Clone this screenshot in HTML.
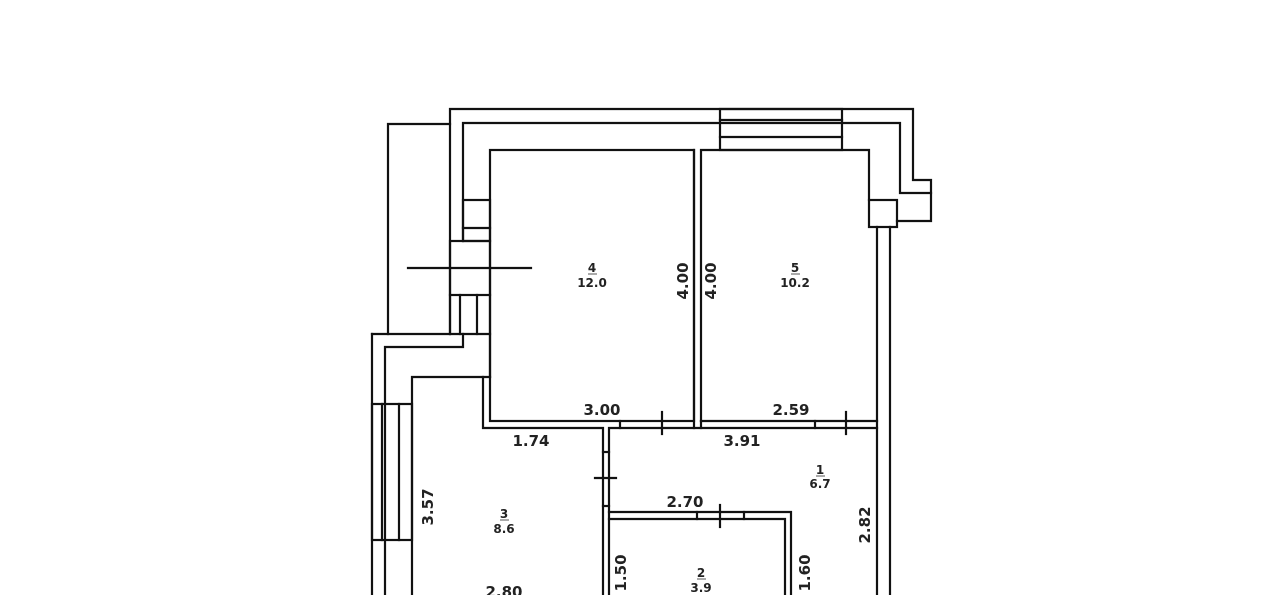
<!DOCTYPE html>
<html><head><meta charset="utf-8"><style>
html,body{margin:0;padding:0;background:#fff;}
svg{display:block;}
text{font-family:"DejaVu Sans","Liberation Sans",sans-serif;font-weight:bold;fill:#222;}
.d{font-size:15px;}
.r{font-size:12px;}
</style></head><body>
<svg width="1280" height="595" viewBox="0 0 1280 595" xmlns="http://www.w3.org/2000/svg">
<g stroke="#111" stroke-width="2.2" fill="none" stroke-linecap="square">
<!-- top outer walls -->
<polyline points="450,334 450,109 913,109 913,180 931,180 931,221 897,221"/>
<polyline points="463,241 463,123 900,123 900,193 931,193"/>
<!-- top window -->
<rect x="720" y="109" width="122" height="41"/>
<line x1="720" y1="120" x2="842" y2="120"/>
<line x1="720" y1="137" x2="842" y2="137"/>
<!-- room 4 -->
<rect x="490" y="150" width="204" height="271"/>
<!-- room 5 -->
<polyline points="701,421 701,150 869,150 869,200"/>
<line x1="701" y1="421" x2="877" y2="421"/>
<!-- right small box and walls -->
<rect x="869" y="200" width="28" height="27"/>
<line x1="877" y1="227" x2="877" y2="595"/>
<line x1="890" y1="227" x2="890" y2="595"/>
<!-- left outer rect -->
<polyline points="450,124 388,124 388,334"/>
<!-- left column boxes -->
<rect x="463" y="200" width="27" height="41"/>
<line x1="463" y1="228" x2="490" y2="228"/>
<rect x="450" y="241" width="40" height="54"/>
<line x1="408" y1="268" x2="531" y2="268"/>
<line x1="450" y1="295" x2="450" y2="334"/>
<line x1="460" y1="295" x2="460" y2="334"/>
<line x1="477" y1="295" x2="477" y2="334"/>
<line x1="490" y1="295" x2="490" y2="377"/>
<line x1="372" y1="334" x2="490" y2="334"/>
<polyline points="463,334 463,347 385,347 385,595"/>
<line x1="372" y1="334" x2="372" y2="595"/>
<polyline points="490,377 412,377 412,595"/>
<!-- left window -->
<rect x="372" y="404" width="40" height="136"/>
<line x1="382" y1="404" x2="382" y2="540"/>
<line x1="399" y1="404" x2="399" y2="540"/>
<!-- room 3 top -->
<polyline points="483,377 483,428 603,428 603,595"/>
<line x1="694" y1="150" x2="694" y2="428"/>
<line x1="701" y1="421" x2="701" y2="428"/>
<polyline points="609,595 609,428 877,428"/>
<!-- doors -->
<line x1="620" y1="421" x2="620" y2="428"/>
<line x1="662" y1="412" x2="662" y2="434"/>
<line x1="815" y1="421" x2="815" y2="428"/>
<line x1="846" y1="412" x2="846" y2="434"/>
<line x1="603" y1="452" x2="609" y2="452"/>
<line x1="603" y1="506" x2="609" y2="506"/>
<line x1="595" y1="478" x2="616" y2="478"/>
<!-- room 2 -->
<polyline points="609,512 791,512 791,595"/>
<polyline points="609,519 785,519 785,595"/>
<line x1="697" y1="512" x2="697" y2="519"/>
<line x1="744" y1="512" x2="744" y2="519"/>
<line x1="720" y1="505" x2="720" y2="527"/>
</g>
<!-- labels -->
<text class="d" x="602" y="415" text-anchor="middle">3.00</text>
<text class="d" x="791" y="415" text-anchor="middle">2.59</text>
<text class="d" x="531" y="446" text-anchor="middle">1.74</text>
<text class="d" x="742" y="446" text-anchor="middle">3.91</text>
<text class="d" x="685" y="507" text-anchor="middle">2.70</text>
<text class="d" x="504" y="597" text-anchor="middle">2.80</text>
<text class="d" transform="translate(688,281) rotate(-90)" text-anchor="middle">4.00</text>
<text class="d" transform="translate(716,281) rotate(-90)" text-anchor="middle">4.00</text>
<text class="d" transform="translate(433,507) rotate(-90)" text-anchor="middle">3.57</text>
<text class="d" transform="translate(870,525) rotate(-90)" text-anchor="middle">2.82</text>
<text class="d" transform="translate(626,573) rotate(-90)" text-anchor="middle">1.50</text>
<text class="d" transform="translate(810,573) rotate(-90)" text-anchor="middle">1.60</text>
<text class="r" x="592" y="272" text-anchor="middle">4</text>
<text class="r" x="592" y="287" text-anchor="middle">12.0</text>
<text class="r" x="795" y="272" text-anchor="middle">5</text>
<text class="r" x="795" y="287" text-anchor="middle">10.2</text>
<text class="r" x="820" y="474" text-anchor="middle">1</text>
<text class="r" x="820" y="488" text-anchor="middle">6.7</text>
<text class="r" x="504" y="518" text-anchor="middle">3</text>
<text class="r" x="504" y="533" text-anchor="middle">8.6</text>
<text class="r" x="701" y="577" text-anchor="middle">2</text>
<text class="r" x="701" y="592" text-anchor="middle">3.9</text>
<g stroke="#555" stroke-width="1">
<line x1="588" y1="274" x2="597" y2="274"/>
<line x1="791" y1="274" x2="800" y2="274"/>
<line x1="816" y1="476" x2="825" y2="476"/>
<line x1="500" y1="520" x2="509" y2="520"/>
<line x1="697" y1="579" x2="706" y2="579"/>
</g>
</svg>
</body></html>
